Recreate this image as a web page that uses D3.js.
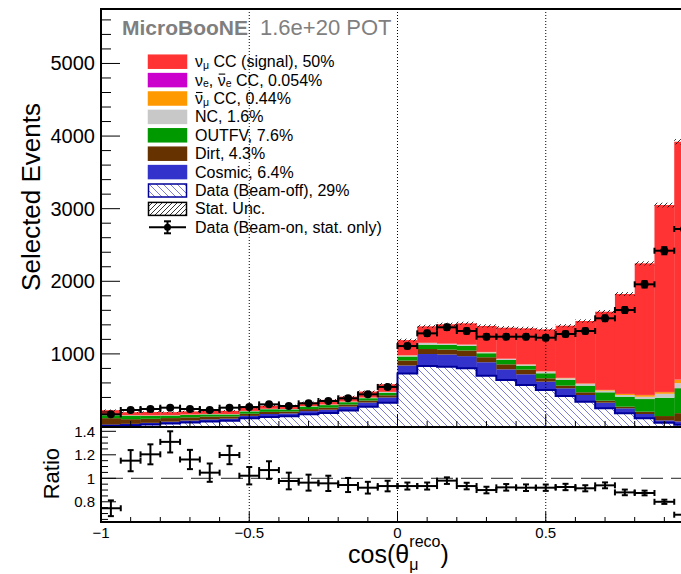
<!DOCTYPE html>
<html>
<head>
<meta charset="utf-8">
<script src="https://cdn.jsdelivr.net/npm/d3@7"></script>
<style>
  html, body { margin: 0; padding: 0; background: #fff; }
  svg { display: block; font-family: "Liberation Sans", Arial, Helvetica, sans-serif; }
</style>
</head>
<body>
<svg id="chart" width="681" height="574"></svg>
<script>
// cos(theta_mu) binning: 30 equal bins on [-1, 1]
const binEdges = d3.range(31).map(i => -1 + i / 15);

// Stacked prediction, events per bin (bottom to top)
const beamOff   = [10, 18, 28, 42, 56, 70, 80, 112, 132, 140, 168, 185, 222, 272, 328,
                   730, 833, 823, 801, 700, 640, 571, 503, 420, 342, 250, 181, 112, 52, 23];
const cosmic    = [15, 18, 22, 24, 26, 28, 28, 34, 40, 40, 44, 46, 52, 58, 72,
                   110, 165, 168, 168, 185, 147, 148, 115, 106, 92, 78, 69, 60, 32, 46];
const dirt      = [90, 65, 56, 50, 44, 38, 30, 30, 30, 26, 28, 28, 28, 28, 30,
                   69, 69, 69, 78, 69, 69, 64, 46, 37, 37, 28, 23, 32, 60, 115];
const outFV     = [40, 48, 40, 35, 33, 31, 28, 33, 36, 30, 35, 36, 33, 32, 36,
                   55, 60, 64, 64, 55, 60, 55, 69, 78, 92, 115, 138, 174, 252, 344];
const ncEvents  = [6, 6, 6, 5, 5, 5, 5, 5, 5, 5, 6, 6, 7, 7, 9,
                   14, 23, 14, 14, 14, 14, 14, 23, 23, 23, 23, 23, 32, 55, 69];
const numubarCC = [1, 1, 1, 1, 1, 1, 1, 1, 1, 1, 1, 2, 2, 2, 2,
                   3, 3, 3, 3, 3, 3, 4, 4, 5, 6, 9, 14, 23, 23, 46];
const nueCC     = [0, 0, 0, 0, 0, 0, 0, 0, 0, 0, 0, 0, 0, 0, 0,
                   0, 0, 1, 1, 1, 1, 1, 1, 1, 1, 1, 1, 2, 2, 3];
const numuCC    = [63, 41, 47, 41, 43, 44, 44, 47, 41, 47, 49, 64, 67, 82, 106,
                   209, 227, 266, 292, 358, 427, 495, 577, 718, 860, 1077, 1376, 1812, 2574, 3276];
const mcStatUnc = [10, 10, 10, 10, 10, 10, 10, 11, 11, 11, 12, 12, 13, 14, 15,
                   20, 22, 22, 22, 22, 22, 22, 22, 22, 23, 24, 26, 28, 32, 36];

// Beam-on data and statistical errors
const dataBeamOn = [168, 227, 241, 259, 241, 227, 259, 268, 305, 282, 319, 351, 388, 443, 545,
                    1108, 1283, 1366, 1315, 1237, 1237, 1237, 1223, 1274, 1315, 1490, 1604, 1958, 2421, 2720];
const dataErr    = [13, 15, 16, 16, 16, 15, 16, 16, 17, 17, 18, 19, 20, 21, 23,
                    33, 36, 37, 36, 35, 35, 35, 35, 36, 36, 39, 40, 44, 49, 52];

// Data / prediction
const ratio    = [0.745, 1.15, 1.204, 1.31, 1.16, 1.048, 1.198, 1.022, 1.07, 0.977, 0.963, 0.957, 0.943, 0.92, 0.934,
                  0.934, 0.934, 0.98, 0.934, 0.90, 0.923, 0.92, 0.92, 0.926, 0.915, 0.94, 0.88, 0.875, 0.80, 0.69];
const ratioErr = [0.067, 0.09, 0.085, 0.09, 0.082, 0.078, 0.078, 0.074, 0.075, 0.071, 0.068, 0.065, 0.06, 0.05, 0.045,
                  0.03, 0.03, 0.028, 0.028, 0.028, 0.028, 0.028, 0.027, 0.027, 0.026, 0.025, 0.024, 0.02, 0.018, 0.015];

const yTicksMain   = [1000, 2000, 3000, 4000, 5000];
const yTicksRatio  = [0.8, 1, 1.2, 1.4];
const yLabelsRatio = ["0.8", "1", "1.2", "1.4"];
const xTicks       = [-1, -0.5, 0, 0.5];
const xTickLabels  = ["\u22121", "\u22120.5", "0", "0.5"];

const colors = {
  numuCC: "#ff3333", nueCC: "#cc00cc", numubarCC: "#ff9900", nc: "#c8c8c8",
  outFV: "#009900", dirt: "#663300", cosmic: "#3333cc", beamOff: "#000099"
};

// ---------------------------------------------------------------
const svg = d3.select("#chart");
const L = 101, R = 694;             // frame x extent (right edge lies beyond view)
const mainTop = 9, mainBot = 427;
const ratTop = 427, ratBot = 522;

const x  = d3.scaleLinear().domain([-1, 1]).range([L, R]);
const y  = d3.scaleLinear().domain([0, 5750]).range([426.5, mainTop]);
const yr = d3.scaleLinear().domain([0.628, 1.4366]).range([ratBot, ratTop]);

const defs = svg.append("defs");
defs.append("clipPath").attr("id", "clipMain")
  .append("rect").attr("x", L).attr("y", mainTop).attr("width", R - L).attr("height", mainBot - mainTop);
defs.append("clipPath").attr("id", "clipRatio")
  .append("rect").attr("x", L).attr("y", ratTop).attr("width", R - L).attr("height", ratBot - ratTop);

// hatch for beam-off (\\\) and stat. unc. (///)
const pOff = defs.append("pattern").attr("id", "hatchOff").attr("patternUnits", "userSpaceOnUse")
  .attr("width", 7).attr("height", 7);
pOff.append("rect").attr("width", 7).attr("height", 7).attr("fill", "#fff");
pOff.append("path").attr("d", "M0,0L7,7M-1,6L1,8M6,-1L8,1")
  .attr("stroke", "#6e6ed2").attr("stroke-width", 0.9);
const pUnc = defs.append("pattern").attr("id", "hatchUnc").attr("patternUnits", "userSpaceOnUse")
  .attr("width", 5).attr("height", 5);
pUnc.append("path").attr("d", "M0,5L5,0M-1,1L1,-1M4,6L6,4")
  .attr("stroke", "#000").attr("stroke-width", 0.8);

// ---------------------------------------------------------------
// Stacked histogram
const keys = ["beamOff", "cosmic", "dirt", "outFV", "nc", "numubarCC", "nueCC", "numuCC"];
const rows = binEdges.slice(0, -1).map((lo, i) => ({
  lo, hi: binEdges[i + 1],
  beamOff: beamOff[i], cosmic: cosmic[i], dirt: dirt[i], outFV: outFV[i], nc: ncEvents[i],
  numubarCC: numubarCC[i], nueCC: nueCC[i], numuCC: numuCC[i]
}));
const series = d3.stack().keys(keys)(rows);

const gMain = svg.append("g").attr("clip-path", "url(#clipMain)");
series.forEach(s => {
  gMain.append("g").selectAll("rect").data(s).join("rect")
    .attr("x", d => x(d.data.lo))
    .attr("width", d => x(d.data.hi) - x(d.data.lo) + 0.3)
    .attr("y", d => y(d[1]))
    .attr("height", d => Math.max(0, y(d[0]) - y(d[1])))
    .attr("fill", s.key === "beamOff" ? "url(#hatchOff)" : colors[s.key]);
});

// beam-off outline
const stepPts = rows.map((r, i) => [r.lo, beamOff[i]]);
stepPts.push([binEdges[30], beamOff[29]]);
gMain.append("path")
  .attr("d", d3.line().x(d => x(d[0])).y(d => y(d[1])).curve(d3.curveStepAfter)(stepPts))
  .attr("fill", "none").attr("stroke", colors.beamOff).attr("stroke-width", 2);

// MC stat. uncertainty band
const totals = series[series.length - 1].map(d => d[1]);
gMain.append("g").selectAll("rect").data(rows).join("rect")
  .attr("x", d => x(d.lo))
  .attr("width", d => x(d.hi) - x(d.lo))
  .attr("y", (d, i) => y(totals[i] + mcStatUnc[i]))
  .attr("height", (d, i) => y(totals[i] - mcStatUnc[i]) - y(totals[i] + mcStatUnc[i]))
  .attr("fill", "url(#hatchUnc)");

// dotted guide lines
[-0.5, 0, 0.5].forEach(v => {
  svg.append("line").attr("x1", x(v)).attr("x2", x(v)).attr("y1", mainTop).attr("y2", mainBot)
    .attr("stroke", "#000").attr("stroke-width", 1).attr("stroke-dasharray", "1,2");
  svg.append("line").attr("x1", x(v)).attr("x2", x(v)).attr("y1", ratTop).attr("y2", ratBot)
    .attr("stroke", "#000").attr("stroke-width", 1).attr("stroke-dasharray", "1,2");
});

// error-bar drawing helper
function errorBars(g, yScale, vals, errs, withMarker) {
  rows.forEach((r, i) => {
    const cx = x((r.lo + r.hi) / 2), cy = yScale(vals[i]);
    const x0 = x(r.lo), x1 = x(r.hi);
    const yt = yScale(vals[i] + errs[i]), yb = yScale(vals[i] - errs[i]);
    const ln = (a, b, c, d) => g.append("line").attr("x1", a).attr("y1", b).attr("x2", c).attr("y2", d)
      .attr("stroke", "#000").attr("stroke-width", 2);
    ln(x0, cy, x1, cy);
    ln(x0, cy - 3, x0, cy + 3);
    ln(x1, cy - 3, x1, cy + 3);
    ln(cx, yt, cx, yb);
    ln(cx - 3, yt, cx + 3, yt);
    ln(cx - 3, yb, cx + 3, yb);
    if (withMarker) g.append("circle").attr("cx", cx).attr("cy", cy).attr("r", 4).attr("fill", "#000");
  });
}
errorBars(svg.append("g").attr("clip-path", "url(#clipMain)"), y, dataBeamOn, dataErr, true);

// ratio panel
const gRat = svg.append("g").attr("clip-path", "url(#clipRatio)");
gRat.append("line").attr("x1", L).attr("x2", R).attr("y1", yr(1)).attr("y2", yr(1))
  .attr("stroke", "#222").attr("stroke-width", 1).attr("stroke-dasharray", "22,8");
errorBars(gRat, yr, ratio, ratioErr, false);

// ---------------------------------------------------------------
// Frames and ticks
const frame = svg.append("g").attr("stroke", "#000").attr("stroke-width", 2).attr("fill", "none");
frame.append("path").attr("d", `M${R},${mainTop}H${L}V${mainBot}H${R}`);
frame.append("path").attr("d", `M${L},${ratTop}V${ratBot}H${R}`);

const ticks = svg.append("g").attr("stroke", "#000").attr("stroke-width", 1);
// main y
d3.range(200, 5750, 200).forEach(v => {
  const major = v % 1000 === 0;
  ticks.append("line").attr("x1", L).attr("x2", L + (major ? 19 : 10)).attr("y1", y(v)).attr("y2", y(v));
});
// ratio y
d3.range(0.65, 1.44, 0.05).forEach(v => {
  const major = Math.abs(v * 5 - Math.round(v * 5)) < 1e-6;
  ticks.append("line").attr("x1", L).attr("x2", L + (major ? 15 : 7)).attr("y1", yr(v)).attr("y2", yr(v));
});
// x ticks (both panels)
d3.range(-10, 10).forEach(k => {
  const v = k / 10;
  const major = k % 5 === 0;
  ticks.append("line").attr("x1", x(v)).attr("x2", x(v)).attr("y1", mainBot).attr("y2", mainBot - (major ? 12 : 6));
  ticks.append("line").attr("x1", x(v)).attr("x2", x(v)).attr("y1", ratBot).attr("y2", ratBot - (major ? 10 : 5));
});

// Tick labels
svg.append("g").selectAll("text").data(yTicksMain).join("text")
  .attr("x", 95).attr("y", d => y(d) + 7).attr("text-anchor", "end")
  .attr("font-size", 20).text(d => d);
svg.append("g").selectAll("text").data(yTicksRatio).join("text")
  .attr("x", 95).attr("y", d => yr(d) + 5.5).attr("text-anchor", "end")
  .attr("font-size", 15).text((d, i) => yLabelsRatio[i]);
svg.append("g").selectAll("text").data(xTicks).join("text")
  .attr("x", d => x(d)).attr("y", 537.5).attr("text-anchor", "middle")
  .attr("font-size", 15).text((d, i) => xTickLabels[i]);

// Axis titles
svg.append("text").attr("transform", "translate(40,103) rotate(-90)")
  .attr("text-anchor", "end").attr("font-size", 26).text("Selected Events");
svg.append("text").attr("transform", "translate(59,448) rotate(-90)")
  .attr("text-anchor", "end").attr("font-size", 22).text("Ratio");
const xt = svg.append("text").attr("x", 348).attr("y", 563).attr("font-size", 25);
xt.append("tspan").text("cos(\u03b8");
xt.append("tspan").attr("font-size", 16).attr("dy", 7).text("\u03bc");
xt.append("tspan").attr("font-size", 16).attr("dx", -9).attr("dy", -23).text("reco");
xt.append("tspan").attr("dy", 16).text(")");

// Title
const tt = svg.append("text").attr("x", 122).attr("y", 35).attr("fill", "#7f7f7f").attr("font-size", 21);
tt.append("tspan").attr("font-weight", "bold").text("MicroBooNE");
tt.append("tspan").attr("x", 260).attr("font-size", 22).text("1.6e+20 POT");

// ---------------------------------------------------------------
// Legend
const legendEntries = [
  { fill: colors.numuCC, parts: [["\u03bd"], ["\u03bc", "sub"], [" CC (signal), 50%"]] },
  { fill: colors.nueCC, parts: [["\u03bd"], ["e", "sub"], [", "], ["\u03bd", "bar"], ["e", "sub"], [" CC, 0.054%"]] },
  { fill: colors.numubarCC, parts: [["\u03bd", "bar"], ["\u03bc", "sub"], [" CC, 0.44%"]] },
  { fill: colors.nc, parts: [["NC, 1.6%"]] },
  { fill: colors.outFV, parts: [["OUTFV, 7.6%"]] },
  { fill: colors.dirt, parts: [["Dirt, 4.3%"]] },
  { fill: colors.cosmic, parts: [["Cosmic, 6.4%"]] },
  { fill: "url(#hatchOff)", stroke: colors.beamOff, parts: [["Data (Beam-off), 29%"]] },
  { fill: "url(#hatchUnc)", stroke: "#000", parts: [["Stat. Unc."]] },
  { data: true, parts: [["Data (Beam-on, stat. only)"]] }
];
const leg = svg.append("g");
legendEntries.forEach((e, i) => {
  const cy = 61.7 + i * 18.4;
  const base = cy + 5.5;
  if (e.data) {
    const ln = (a, b, c, d) => leg.append("line").attr("x1", a).attr("y1", b).attr("x2", c).attr("y2", d)
      .attr("stroke", "#000").attr("stroke-width", 2);
    ln(149, cy, 186, cy);
    ln(167.5, cy - 6, 167.5, cy + 6);
    ln(164, cy - 6, 171, cy - 6);
    ln(164, cy + 6, 171, cy + 6);
    leg.append("circle").attr("cx", 167.5).attr("cy", cy).attr("r", 3.5).attr("fill", "#000");
  } else {
    leg.append("rect").attr("x", 148.5).attr("y", cy - 6.5).attr("width", 38).attr("height", 13)
      .attr("fill", e.fill).attr("stroke", e.stroke || e.fill).attr("stroke-width", 1.5);
  }
  const t = leg.append("text").attr("x", 195).attr("y", base).attr("font-size", 16);
  let shifted = 0;
  const bars = [];
  e.parts.forEach(([s, kind]) => {
    const ts = t.append("tspan").text(s);
    if (kind === "sub") {
      ts.attr("font-size", 10.5).attr("dy", 1.6 - shifted); shifted = 1.6;
    } else {
      if (shifted) { ts.attr("dy", -shifted); shifted = 0; }
      if (kind === "bar") bars.push(ts.node());
    }
  });
  // anti-neutrino bars drawn over the nu glyph
  bars.forEach(node => {
    const ext = node.getExtentOfChar(0);
    leg.append("line").attr("x1", ext.x + 1).attr("x2", ext.x + ext.width - 0.5)
      .attr("y1", base - 11.5).attr("y2", base - 11.5)
      .attr("stroke", "#000").attr("stroke-width", 1.1);
  });
});
</script>
</body>
</html>
